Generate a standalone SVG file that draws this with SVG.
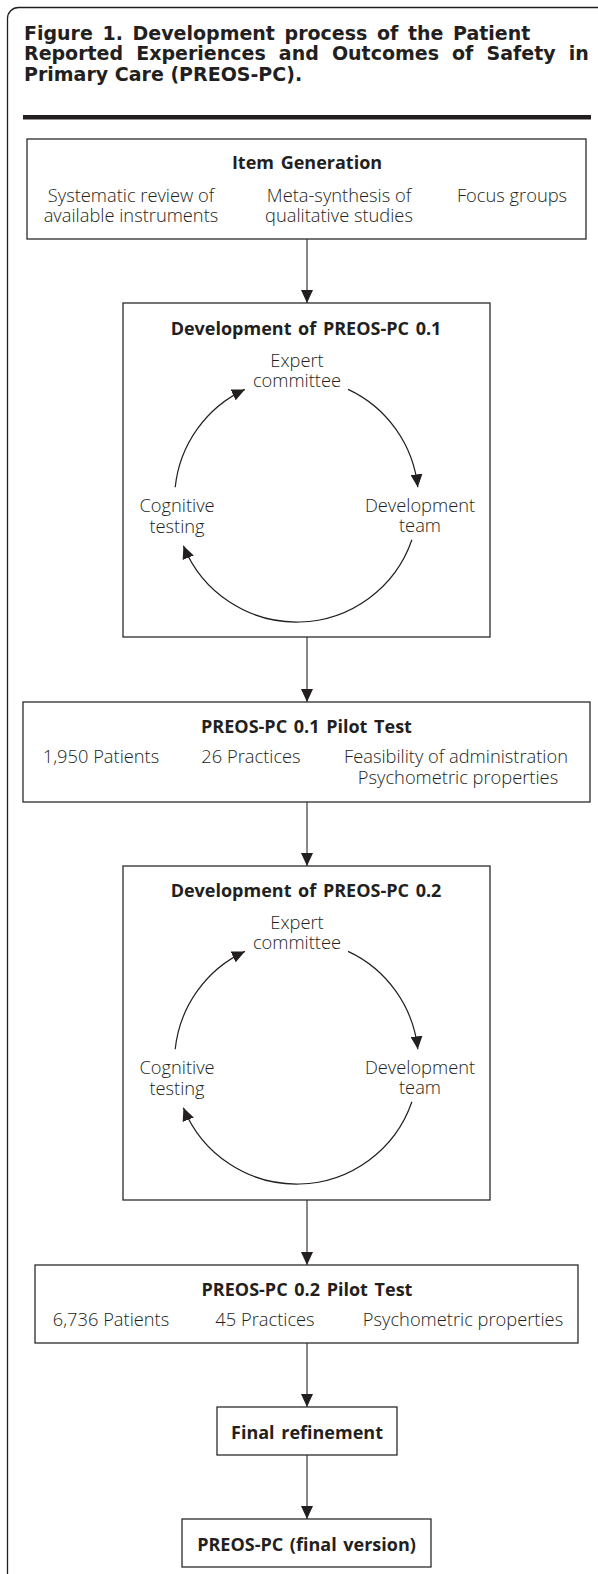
<svg xmlns="http://www.w3.org/2000/svg" width="598" height="1574" viewBox="0 0 598 1574">
<style>
  .t{font-family:"Open Sans","Noto Sans","Liberation Sans",sans-serif;fill:#231f20;}
  .h{font-family:"DejaVu Sans","Open Sans","Liberation Sans",sans-serif;font-size:19px;font-weight:700;fill:#231f20;}
  .b{font-size:18px;font-weight:700;text-anchor:middle;word-spacing:2px;}
  .r{font-size:18.3px;font-weight:300;text-anchor:middle;}
  .box{fill:#fff;stroke:#2b2b2b;stroke-width:1.3;}
  .con{fill:none;stroke:#4a4a4a;stroke-width:1.3;}
  .arc{fill:none;stroke:#231f20;stroke-width:1.2;}
</style>
<defs>
  <marker id="ah" markerUnits="userSpaceOnUse" markerWidth="14" markerHeight="12" refX="13" refY="6" orient="auto">
    <path d="M0,0 L13,6 L0,12 z" fill="#231f20"/>
  </marker>
</defs>
<rect x="0" y="0" width="598" height="1574" fill="#fff"/>
<rect x="7.5" y="7.5" width="640" height="1620" rx="11" fill="none" stroke="#231f20" stroke-width="1.3"/>
<g id="title">
  <text class="h" x="24" y="39.5"><tspan style="word-spacing:3px">Figure 1. Development process of the Patient</tspan><tspan x="24" y="60" style="word-spacing:6.5px">Reported Experiences and Outcomes of Safety in</tspan><tspan x="24" y="80.5">Primary Care (PREOS-PC).</tspan></text>
</g>
<rect x="23" y="115" width="568" height="4.5" fill="#231f20"/>

<g id="connectors">
  <line class="con" x1="307" y1="239" x2="307" y2="303" marker-end="url(#ah)"/>
  <line class="con" x1="307" y1="637" x2="307" y2="702" marker-end="url(#ah)"/>
  <line class="con" x1="307" y1="802" x2="307" y2="866" marker-end="url(#ah)"/>
  <line class="con" x1="307" y1="1200" x2="307" y2="1265" marker-end="url(#ah)"/>
  <line class="con" x1="307" y1="1343" x2="307" y2="1407" marker-end="url(#ah)"/>
  <line class="con" x1="307" y1="1455" x2="307" y2="1519" marker-end="url(#ah)"/>
</g>

<g id="item-generation">
  <rect class="box" x="27" y="139" width="559" height="100"/>
  <text class="t b" x="307" y="169">Item Generation</text>
  <text class="t r" x="131" y="202">Systematic review of<tspan x="131" y="222">available instruments</tspan></text>
  <text class="t r" x="339" y="202">Meta-synthesis of<tspan x="339" y="222">qualitative studies</tspan></text>
  <text class="t r" x="512" y="202">Focus groups</text>
</g>

<g id="development-01">
  <rect class="box" x="123" y="303" width="367" height="334"/>
  <text class="t b" x="306" y="335">Development of PREOS-PC 0.1</text>
  <g id="cycle-01">
    <text class="t r" x="297" y="367">Expert<tspan x="297" y="387">committee</tspan></text>
    <text class="t r" x="420" y="512">Development<tspan x="420" y="532">team</tspan></text>
    <text class="t r" x="177" y="512">Cognitive<tspan x="177" y="533">testing</tspan></text>
    <path class="arc" d="M348.1,389.4 A122,122 0 0 1 417.8,487.3" marker-end="url(#ah)"/>
    <path class="arc" d="M411.9,539.7 A122,122 0 0 1 183.4,545.7" marker-end="url(#ah)"/>
    <path class="arc" d="M175.2,487.3 A122,122 0 0 1 244.9,389.4" marker-end="url(#ah)"/>
  </g>
</g>

<g id="pilot-01">
  <rect class="box" x="23" y="702" width="567" height="100"/>
  <text class="t b" x="306.5" y="733">PREOS-PC 0.1 Pilot Test</text>
  <text class="t r" x="101" y="763">1,950 Patients</text>
  <text class="t r" x="251" y="763">26 Practices</text>
  <text class="t r" x="456" y="763">Feasibility of administration<tspan x="458" y="784">Psychometric properties</tspan></text>
</g>

<g id="development-02">
  <rect class="box" x="123" y="866" width="367" height="334"/>
  <text class="t b" x="306" y="897">Development of PREOS-PC 0.2</text>
  <g id="cycle-02">
    <text class="t r" x="297" y="929">Expert<tspan x="297" y="949">committee</tspan></text>
    <text class="t r" x="420" y="1074">Development<tspan x="420" y="1094">team</tspan></text>
    <text class="t r" x="177" y="1074">Cognitive<tspan x="177" y="1095">testing</tspan></text>
    <path class="arc" d="M348.1,951.4 A122,122 0 0 1 417.8,1049.3" marker-end="url(#ah)"/>
    <path class="arc" d="M411.9,1101.7 A122,122 0 0 1 183.4,1107.7" marker-end="url(#ah)"/>
    <path class="arc" d="M175.2,1049.3 A122,122 0 0 1 244.9,951.4" marker-end="url(#ah)"/>
  </g>
</g>

<g id="pilot-02">
  <rect class="box" x="35" y="1265" width="543" height="78"/>
  <text class="t b" x="307" y="1296">PREOS-PC 0.2 Pilot Test</text>
  <text class="t r" x="111" y="1326">6,736 Patients</text>
  <text class="t r" x="265" y="1326">45 Practices</text>
  <text class="t r" x="463" y="1326">Psychometric properties</text>
</g>

<g id="final-refinement">
  <rect class="box" x="217" y="1407" width="180" height="48"/>
  <text class="t b" x="307" y="1439">Final refinement</text>
</g>

<g id="final-version">
  <rect class="box" x="182" y="1519" width="249" height="48"/>
  <text class="t b" x="306.5" y="1551">PREOS-PC (final version)</text>
</g>
</svg>
